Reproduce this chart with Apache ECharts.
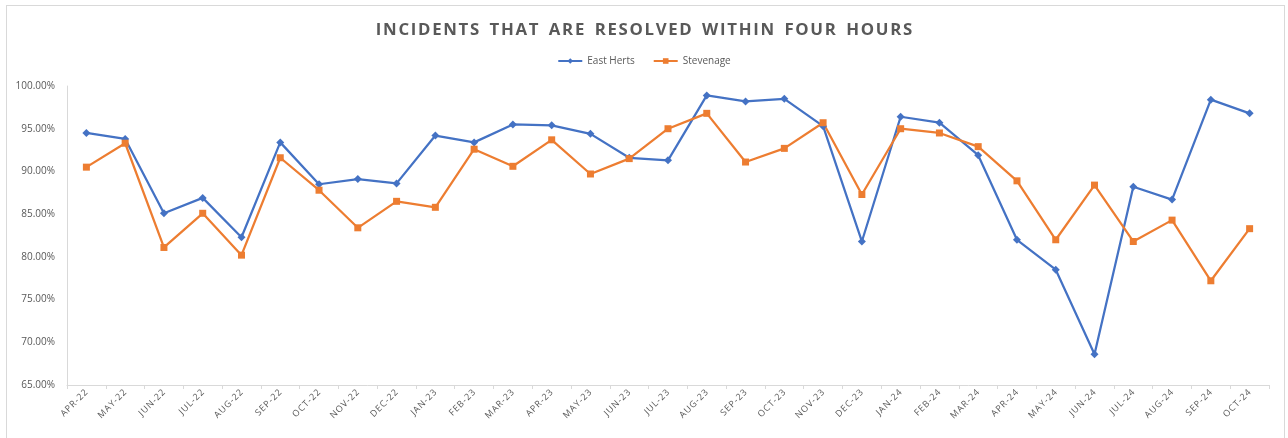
<!DOCTYPE html>
<html>
<head>
<meta charset="utf-8">
<script src="https://cdn.jsdelivr.net/npm/echarts@6/dist/echarts.min.js"></script>
<style>
  html, body { margin: 0; padding: 0; background: #fff; }
  #frame {
    position: absolute; left: 6px; top: 5px;
    width: 1277px; height: 460px;
    border: 1px solid #d9d9d9;
  }
  #main { position: absolute; left: 0; top: 0; width: 1288px; height: 438px; }
</style>
</head>
<body>
<div id="frame"></div>
<div id="main"></div>
<script>
  var months = ['Apr-22', 'May-22', 'Jun-22', 'Jul-22', 'Aug-22', 'Sep-22', 'Oct-22', 'Nov-22', 'Dec-22',
    'Jan-23', 'Feb-23', 'Mar-23', 'Apr-23', 'May-23', 'Jun-23', 'Jul-23', 'Aug-23', 'Sep-23', 'Oct-23', 'Nov-23', 'Dec-23',
    'Jan-24', 'Feb-24', 'Mar-24', 'Apr-24', 'May-24', 'Jun-24', 'Jul-24', 'Aug-24', 'Sep-24', 'Oct-24'];

  // percent resolved within four hours
  var eastHerts = [94.5, 93.8, 85.1, 86.9, 82.3, 93.4, 88.5, 89.1, 88.6,
    94.2, 93.4, 95.5, 95.4, 94.4, 91.6, 91.3, 98.9, 98.2, 98.5, 95.3, 81.8,
    96.4, 95.7, 91.9, 82.0, 78.5, 68.6, 88.2, 86.7, 98.4, 96.8];
  var stevenage = [90.5, 93.3, 81.1, 85.1, 80.2, 91.6, 87.8, 83.4, 86.5,
    85.8, 92.6, 90.6, 93.7, 89.7, 91.5, 95.0, 96.8, 91.1, 92.7, 95.7, 87.3,
    95.0, 94.5, 92.9, 88.9, 82.0, 88.4, 81.8, 84.3, 77.2, 83.3];

  var yTicks = { min: 65, max: 100, step: 5 };

  var chart = echarts.init(document.getElementById('main'), null, { renderer: 'canvas' });
  chart.setOption({
    animation: false,
    title: {
      text: 'I N C I D E N T S   T H A T   A R E   R E S O L V E D   W I T H I N   F O U R   H O U R S'.replace(/ (?! )/g, '\u200a'),
      left: 'center',
      top: 17,
      textStyle: { fontFamily: 'Open Sans', fontSize: 16.8, fontWeight: 'bold', color: '#595959' }
    },
    legend: {
      top: 51,
      left: 'center',
      itemWidth: 24,
      itemHeight: 7,
      itemGap: 18,
      textStyle: { fontFamily: 'Open Sans', fontSize: 10, color: '#595959' },
      data: ['East Herts', 'Stevenage']
    },
    grid: { left: 67, right: 19, top: 86, bottom: 53 },
    xAxis: {
      type: 'category',
      data: months,
      axisLine: { lineStyle: { color: '#d9d9d9', width: 1 } },
      axisTick: { show: true, length: 4, lineStyle: { color: '#d9d9d9' } },
      axisLabel: {
        rotate: 45,
        interval: 0,
        margin: 6,
        fontFamily: 'Open Sans',
        fontSize: 9,
        color: '#595959',
        formatter: function (v) { return v.toUpperCase().split('').join('\u200a'); }
      }
    },
    yAxis: {
      type: 'value',
      min: yTicks.min,
      max: yTicks.max,
      interval: yTicks.step,
      axisLine: { show: true, lineStyle: { color: '#d9d9d9', width: 1 } },
      axisTick: { show: false },
      splitLine: { show: false },
      axisLabel: {
        margin: 12,
        fontFamily: 'Open Sans',
        fontSize: 10,
        color: '#595959',
        formatter: function (v) { return v.toFixed(2) + '%'; }
      }
    },
    series: [
      {
        name: 'East Herts',
        type: 'line',
        data: eastHerts,
        symbol: 'diamond',
        symbolSize: 8,
        color: '#4472C4',
        lineStyle: { width: 2.25, color: '#4472C4' },
        itemStyle: { color: '#4472C4' }
      },
      {
        name: 'Stevenage',
        type: 'line',
        data: stevenage,
        symbol: 'rect',
        symbolSize: 7,
        color: '#ED7D31',
        lineStyle: { width: 2.25, color: '#ED7D31' },
        itemStyle: { color: '#ED7D31' }
      }
    ]
  });
</script>
</body>
</html>
